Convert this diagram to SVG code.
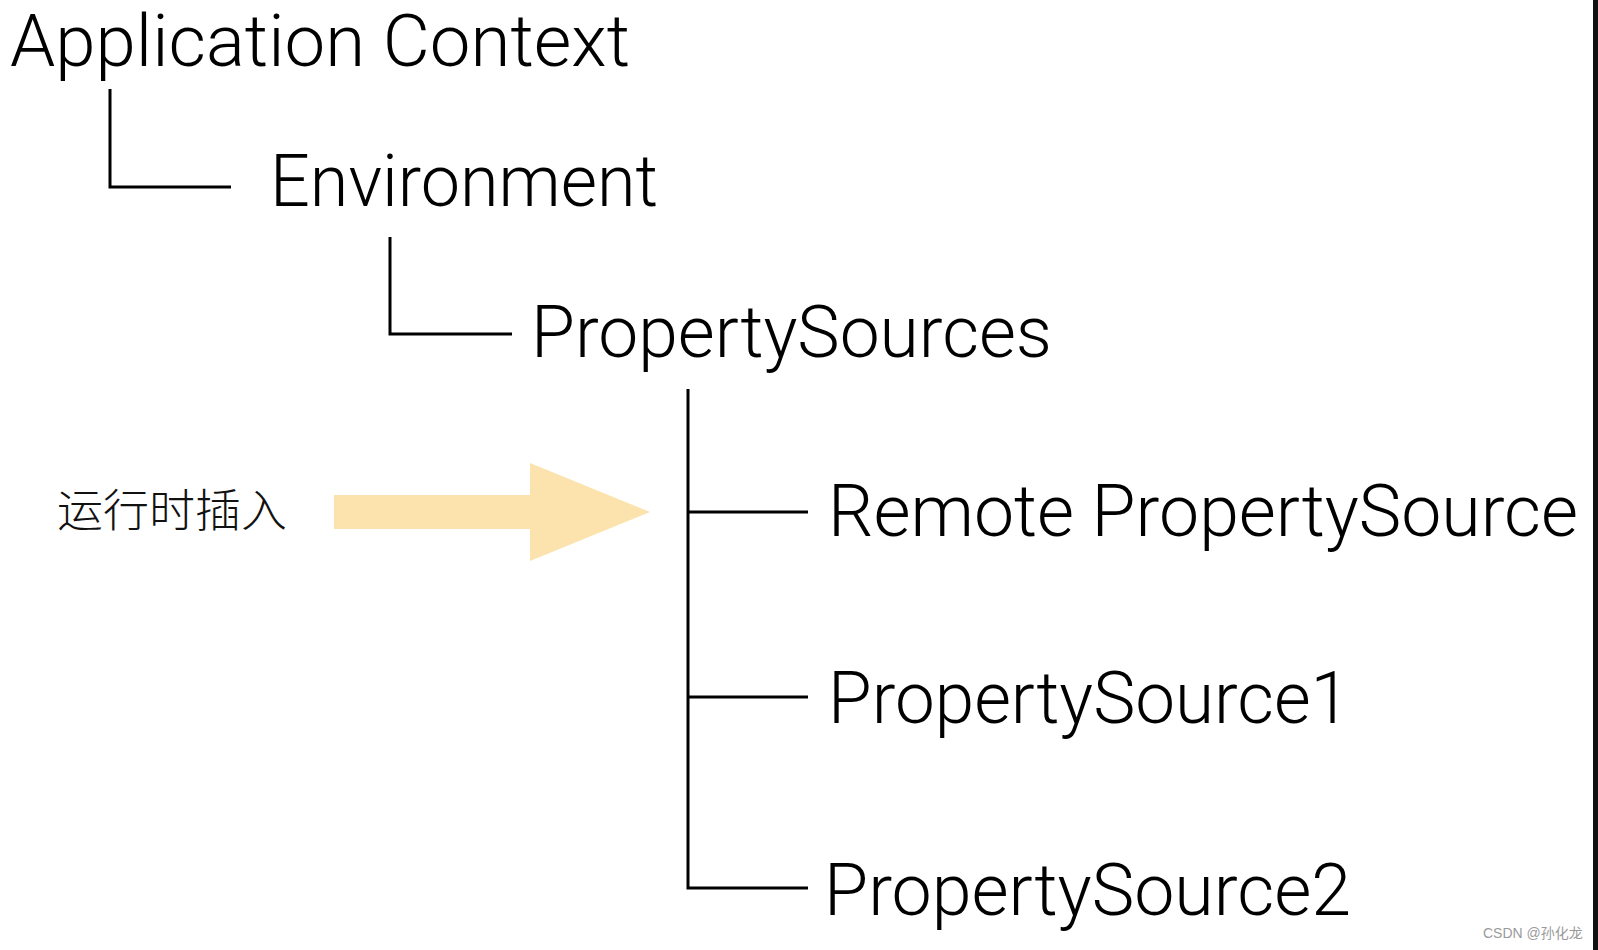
<svg xmlns="http://www.w3.org/2000/svg" width="1598" height="950" viewBox="0 0 1598 950">
  <style>
    .lbl { font-family: Roboto, "Liberation Sans", sans-serif; font-weight: 300; font-size: 72px; fill: #000; }
    .cn { font-family: "Noto Sans CJK SC", "Noto Sans", sans-serif; font-weight: 300; font-size: 45px; fill: #111; }
    .wm { font-family: "Liberation Sans", "Noto Sans CJK SC", sans-serif; font-size: 14px; fill: #9a9a9a; }
    .ln { fill: none; stroke: #000; stroke-width: 3; stroke-linecap: butt; }
  </style>
  <rect width="1598" height="950" fill="#fff"/>
  <rect x="1593" y="0" width="5" height="950" fill="#111"/>

  <g id="connectors">
    <path class="ln" d="M110 89 V187 H231"/>
    <path class="ln" d="M390 237 V334 H512"/>
    <path class="ln" d="M688 389 V888 H808"/>
    <path class="ln" d="M688 512 H808"/>
    <path class="ln" d="M688 697 H808"/>
  </g>

  <g id="application-context">
    <text class="lbl" x="10" y="66" font-size="71" textLength="620" lengthAdjust="spacingAndGlyphs">Application Context</text>
  </g>
  <g id="environment">
    <text class="lbl" x="270" y="206" textLength="388" lengthAdjust="spacingAndGlyphs">Environment</text>
  </g>
  <g id="property-sources">
    <text class="lbl" x="531" y="357" textLength="521" lengthAdjust="spacingAndGlyphs">PropertySources</text>
  </g>
  <g id="remote-property-source">
    <text class="lbl" x="828" y="536" textLength="750" lengthAdjust="spacingAndGlyphs">Remote PropertySource</text>
  </g>
  <g id="property-source-1">
    <text class="lbl" x="828" y="723" textLength="522" lengthAdjust="spacingAndGlyphs">PropertySource1</text>
  </g>
  <g id="property-source-2">
    <text class="lbl" x="824" y="915" textLength="527" lengthAdjust="spacingAndGlyphs">PropertySource2</text>
  </g>

  <g id="runtime-insert">
    <text class="cn" x="57" y="527" textLength="230" lengthAdjust="spacingAndGlyphs">运行时插入</text>
    <polygon points="334,495 530,495 530,463 650,512 530,561 530,529 334,529" fill="#fce3ad"/>
  </g>

  <g id="watermark">
    <text class="wm" x="1483" y="938">CSDN @孙化龙</text>
  </g>
</svg>
